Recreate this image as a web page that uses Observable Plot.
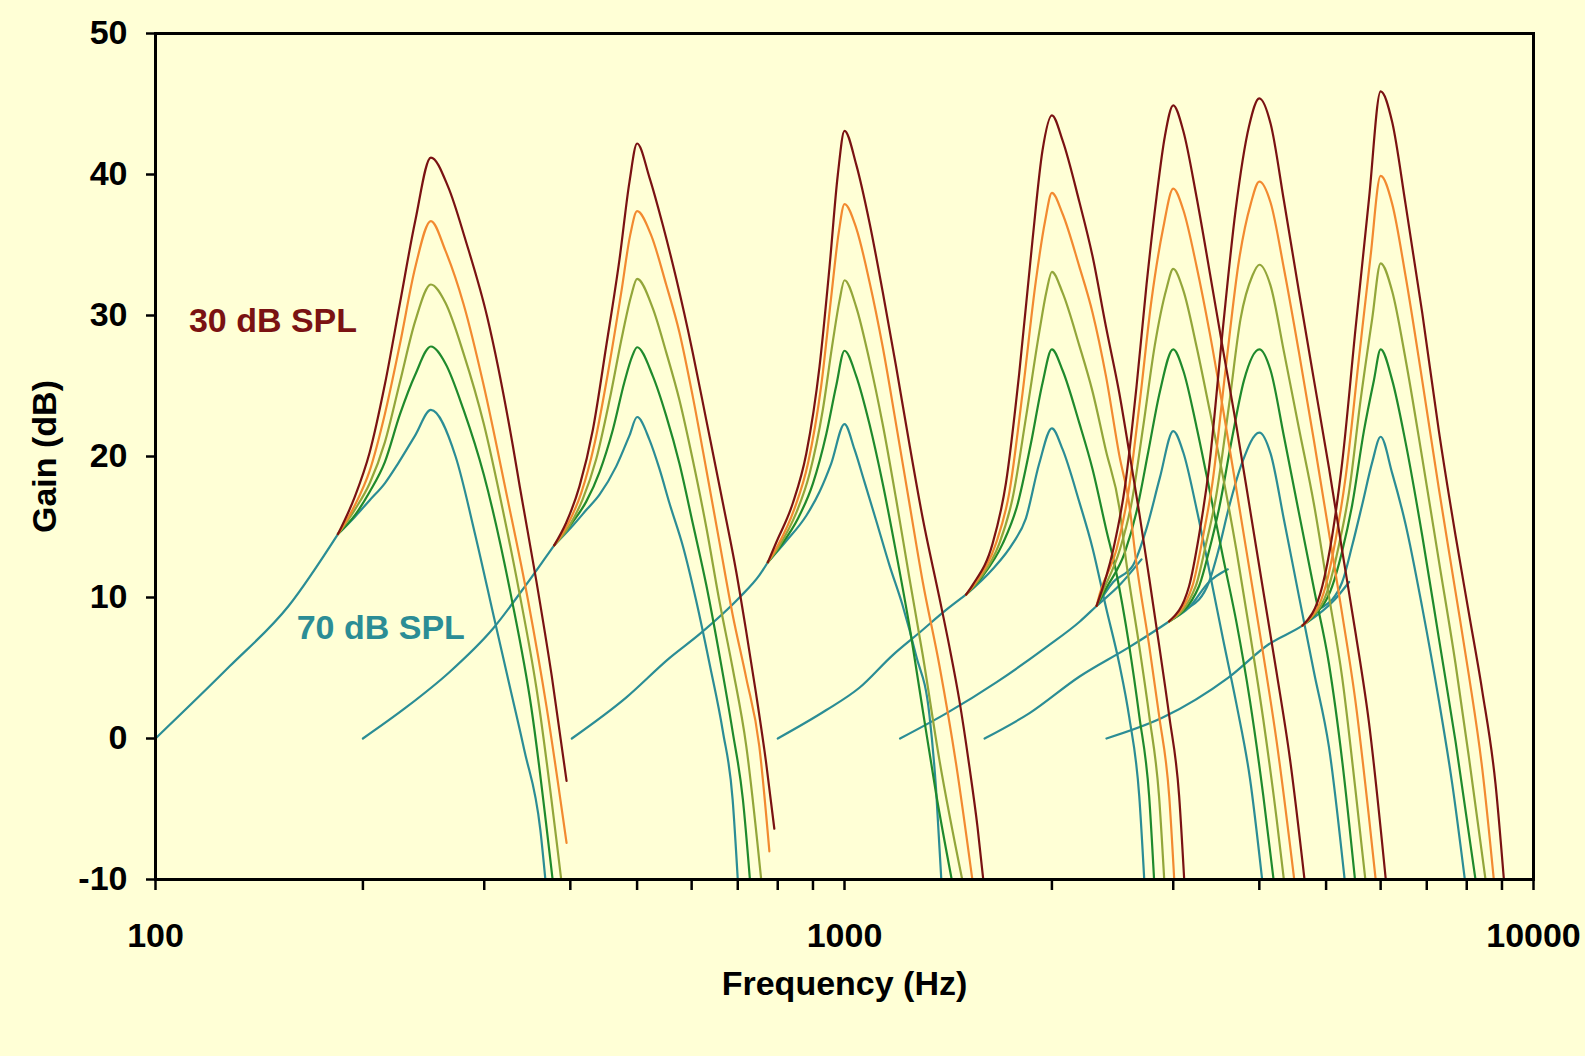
<!DOCTYPE html>
<html>
<head>
<meta charset="utf-8">
<script src="https://cdn.jsdelivr.net/npm/d3@7"></script>
<script src="https://cdn.jsdelivr.net/npm/@observablehq/plot@0.6"></script>
<style>
  html, body { margin: 0; padding: 0; background: #FFFFD6; }
  #chart svg { display: block; }
</style>
</head>
<body>
<div id="chart"></div>
<script>
// ---- categories / ticks ----
const levels = ["30 dB SPL", "40 dB SPL", "50 dB SPL", "60 dB SPL", "70 dB SPL"];
const levelColors = ["#7a1212", "#f28a30", "#93a63a", "#1f8a2c", "#2b8d95"];
const centerFreqs = [250, 500, 1000, 2000, 3000, 4000, 6000];
const xTickValues = [100,200,300,400,500,600,700,800,900,1000,2000,3000,4000,5000,6000,7000,8000,9000,10000];
const xTickLabels = ["100","","","","","","","","","1000","","","","","","","","","10000"];
const yTickValues = [-10, 0, 10, 20, 30, 40, 50];
const noteText = ["30 dB SPL", "70 dB SPL"];
const noteFreq = [111.8, 160.3];
const noteGain = [29.6, 7.8];

// ---- filter 250 Hz: [freq Hz, gain dB] ----
const tail250 = [[100,0],[128,5.1],[156,9.4],[184,14.5]];
const tips250 = [
  [[184,14.5],[194.5,17.1],[204.6,20.3],[215.2,25.1],[226.4,30.9],[238.2,36.7],[251,41.2],[266,39.1],[282,35.3],[303,29.9],[330,20.8],[338,17.8],[357,11.2],[376,4.4],[395,-3.0]],
  [[184,14.5],[194.5,16.5],[204.6,19.0],[215.2,23.0],[226.4,28.0],[238.2,33.4],[251,36.7],[263.5,34.6],[280,30.8],[299.6,25.0],[322.7,17.5],[347.6,9.7],[369.3,2.3],[395,-7.4]],
  [[184,14.5],[194.5,16.2],[204.6,18.1],[215.2,21.0],[226.4,25.3],[238.2,29.6],[251,32.2],[263.5,30.9],[280,27.3],[299.6,22.3],[320.5,15.8],[337.2,10.4],[357.1,3.6],[388,-10]],
  [[184,14.5],[194.5,15.8],[204.6,17.5],[215.2,19.6],[226.4,23.0],[238.2,25.8],[251,27.8],[263.5,26.6],[280,23.3],[299.6,18.7],[328.2,10.1],[351.1,2.2],[377,-10]],
  [[184,14.5],[194.5,15.7],[204.6,16.9],[215.2,18.1],[224.9,19.5],[238.2,21.5],[251,23.3],[272.6,20.0],[290.6,14.6],[309.9,8.6],[326,3.9],[342.9,-0.8],[361.9,-6.5],[368,-10]]
];

// ---- filter 500 Hz ----
const tail500 = [[200,0],[231,2.2],[267,4.7],[309,7.8],[345,10.9],[369,12.9],[379,13.7]];
const tips500 = [
  [[379,13.7],[394.5,15.3],[412.5,17.9],[431.3,21.9],[450.9,27.8],[471.5,34.0],[487.5,39.5],[500,42.2],[521,39.8],[545,36.4],[570,32.6],[602,27.4],[630,22.6],[666,16.7],[696,11.9],[720,7.6],[744,3.2],[769,-1.6],[791,-6.4]],
  [[379,13.7],[396.7,15.2],[414.8,17.4],[433.7,20.9],[453.5,25.9],[474.1,31.6],[488.6,35.7],[500,37.4],[524,35.7],[551,32.2],[576,28.8],[602,24.3],[630,19.1],[658,14.0],[688,8.8],[720,4.3],[752,-0.5],[778,-8.0]],
  [[379,13.7],[398.9,15.1],[417.1,17.0],[436.1,19.8],[456,24.0],[476.8,28.8],[490.2,31.4],[500,32.6],[527,30.5],[551,27.4],[576,24.0],[602,19.8],[630,15.0],[658,9.8],[688,5.0],[720,-0.5],[757,-10]],
  [[379,13.7],[401.1,15.2],[421.8,16.8],[441,18.9],[461.1,21.9],[479.4,25.3],[491.8,27.1],[500,27.75],[527,25.7],[551,22.9],[576,19.5],[602,15.3],[630,10.9],[658,6.0],[688,0.5],[712,-4.3],[729,-10]],
  [[379,13.7],[403.4,15.1],[421.8,16.2],[441,17.3],[466.3,19.3],[487.5,21.5],[500,22.8],[521,21.2],[539,19.1],[557,16.7],[583,13.6],[609,9.8],[637,5.3],[666,0.5],[688,-4.3],[700,-10]]
];

// ---- filter 1000 Hz ----
const tail1000 = [[402,0],[482,2.9],[557,5.7],[616,7.4],[704,10.0],[753,11.6],[774,12.5]];
const tips1000 = [
  [[774,12.5],[796,13.9],[841.5,16.7],[880,20.2],[920,26.4],[951,33.4],[978,40.0],[1000,43.1],[1040,40.7],[1087,36.6],[1136,31.7],[1188,26.4],[1242,20.9],[1299,15.6],[1373,10.0],[1420,6.5],[1468,2.7],[1518,-2.0],[1560,-6.3],[1590,-10]],
  [[774,12.5],[800.6,13.7],[846,16.3],[885,19.5],[925,25.0],[956.5,31.3],[981,35.9],[1000,37.9],[1040,36.2],[1087,32.4],[1136,27.8],[1188,22.3],[1242,16.7],[1299,11.1],[1373,5.2],[1452,-1.8],[1533,-10]],
  [[774,12.5],[805,13.7],[851,16.0],[890,18.8],[930,23.3],[962,28.2],[983,31.0],[1000,32.5],[1040,30.6],[1087,26.8],[1136,22.3],[1188,17.0],[1242,11.4],[1299,5.9],[1373,-1.5],[1482,-10]],
  [[774,12.5],[809,13.7],[856,15.6],[900,18.1],[941,21.6],[972.5,25.0],[1000,27.5],[1040,25.7],[1087,22.3],[1136,18.1],[1188,13.2],[1242,8.0],[1299,2.0],[1358,-3.9],[1431,-10]],
  [[774,12.5],[823,14.0],[880,15.8],[920,17.5],[956.5,19.5],[1000,22.3],[1034,20.5],[1069,18.2],[1111,15.5],[1162,12.3],[1215,9.4],[1270,5.9],[1328,1.7],[1358,-3.6],[1382,-10]]
];

// ---- filter 2000 Hz ----
const tail2000 = [[800,0],[940,2.0],[1051,3.6],[1174,5.9],[1284,7.5],[1403,9.1],[1501,10.2]];
const tips2000 = [
  [[1501,10.2],[1535,10.9],[1640,13.8],[1715,18.1],[1793,25.9],[1874,35.3],[1938,41.7],[2000,44.2],[2073,42.4],[2191,38.1],[2291,34.2],[2396,29.2],[2505,24.5],[2590,20.3],[2678,16.0],[2768,11.4],[2862,6.6],[2960,1.6],[3060,-4.1],[3112,-10]],
  [[1501,10.2],[1551,11.1],[1658,13.8],[1734,17.4],[1813,24.5],[1895,32.4],[1955,36.7],[2000,38.7],[2073,37.2],[2191,33.5],[2291,30.2],[2396,25.7],[2505,20.1],[2590,16.6],[2648,12.7],[2768,6.6],[2862,1.6],[2960,-4.1],[3010,-10]],
  [[1501,10.2],[1569,11.3],[1677,13.8],[1753,17.0],[1833,22.7],[1917,28.8],[1964,31.7],[2000,33.1],[2073,31.6],[2191,27.9],[2291,24.6],[2396,20.4],[2505,16.4],[2561,12.7],[2677,6.6],[2769,1.6],[2861,-4.1],[2911,-10]],
  [[1501,10.2],[1586,11.5],[1696,13.8],[1783,16.6],[1864,20.9],[1938,25.2],[2000,27.6],[2073,26.1],[2191,22.4],[2291,19.1],[2396,14.9],[2477,11.9],[2589,6.6],[2678,1.6],[2768,-4.1],[2814,-10]],
  [[1501,10.2],[1640,12.0],[1753,13.8],[1833,15.6],[1917,19.5],[2000,22.0],[2073,20.5],[2191,16.8],[2291,13.5],[2396,9.3],[2505,5.3],[2590,1.5],[2678,-4.1],[2723,-10]]
];

// ---- filter 3000 Hz ----
const tail3000 = [[1204,0],[1407,1.8],[1663,4.0],[1965,6.5],[2196,8.3],[2322,9.4],[2510,10.9],[2698,12.7]];
const tips3000 = [
  [[2322,9.4],[2455,13.4],[2552,17.8],[2654,25.0],[2744,32.2],[2837,38.4],[2917,42.7],[3000,44.9],[3102,43.1],[3243,38.4],[3391,33.0],[3545,27.5],[3707,22.1],[3876,16.3],[4052,10.5],[4237,4.7],[4430,-1.4],[4652,-10]],
  [[2322,9.4],[2348,10.3],[2482,13.4],[2581,17.4],[2683,23.9],[2790,31.1],[2901,36.2],[3000,39.0],[3102,37.5],[3243,33.5],[3391,28.7],[3545,23.3],[3707,17.6],[3876,11.8],[4052,6.0],[4238,-0.2],[4495,-10]],
  [[2322,9.4],[2374,10.5],[2510,13.4],[2610,16.7],[2713,22.1],[2821,27.9],[2933,31.9],[3000,33.3],[3102,31.8],[3243,27.8],[3391,23.2],[3545,18.5],[3707,13.3],[3876,7.5],[4052,1.4],[4238,-5.7],[4342,-10]],
  [[2322,9.4],[2401,10.7],[2552,13.2],[2654,16.1],[2759,20.3],[2869,24.6],[3000,27.6],[3102,26.1],[3243,22.1],[3391,17.5],[3545,12.8],[3707,8.2],[3876,2.7],[4052,-4.0],[4195,-10]],
  [[2322,9.4],[2455,11.1],[2624,12.3],[2744,14.9],[2869,18.5],[3000,21.8],[3102,20.3],[3243,16.3],[3391,11.7],[3545,7.0],[3707,2.4],[3876,-2.8],[4038,-10]]
];

// ---- filter 4000 Hz ----
const tail4000 = [[1597,0],[1856,1.8],[2194,4.4],[2593,6.5],[2958,8.3],[3163,9.3],[3381,11.1],[3600,12.0]];
const tips4000 = [
  [[2958,8.3],[3163,10.8],[3270,14.4],[3381,19.2],[3535,28.7],[3696,37.5],[3864,43.4],[4000,45.4],[4154,43.6],[4344,38.1],[4566,31.7],[4802,25.4],[5048,19.2],[5277,13.3],[5517,7.5],[5768,1.2],[6104,-10]],
  [[2958,8.3],[3198,10.8],[3307,14.1],[3419,18.1],[3574,26.2],[3737,33.9],[3886,37.9],[4000,39.5],[4154,38.0],[4344,33.3],[4566,27.4],[4802,21.1],[5048,14.6],[5277,8.8],[5517,2.6],[5768,-5.5],[5901,-10]],
  [[2958,8.3],[3234,10.8],[3344,13.7],[3457,17.0],[3614,23.6],[3758,29.8],[3907,32.8],[4000,33.6],[4154,32.1],[4344,27.4],[4566,22.0],[4802,16.6],[5048,10.1],[5277,4.3],[5517,-3.7],[5701,-10]],
  [[2958,8.3],[3270,10.8],[3381,13.3],[3496,16.3],[3655,21.4],[3800,25.4],[4000,27.6],[4154,26.1],[4344,21.4],[4566,16.0],[4802,10.6],[5048,5.3],[5277,-1.6],[5507,-10]],
  [[3163,9.3],[3381,11.1],[3496,13.5],[3614,16.4],[3779,19.6],[4000,21.7],[4154,20.2],[4344,15.5],[4566,10.1],[4802,4.7],[5048,-0.6],[5320,-10]]
];

// ---- filter 6000 Hz ----
const tail6000 = [[2400,0],[2901,1.5],[3603,4.3],[4133,6.7],[4618,8.0],[5136,9.8],[5400,11.1]];
const tips6000 = [
  [[4618,8.0],[4937,10.8],[5104,14.4],[5277,19.6],[5518,29.1],[5769,38.2],[6000,45.9],[6237,43.7],[6521,37.9],[6894,30.2],[7289,21.8],[7706,14.4],[8057,8.9],[8424,3.4],[8807,-3.2],[9058,-10]],
  [[4618,8.0],[4670,8.2],[4992,10.8],[5161,14.1],[5336,18.5],[5579,26.9],[5801,34.2],[6000,39.9],[6237,37.9],[6521,32.8],[6894,25.4],[7289,17.7],[7706,10.4],[8057,4.5],[8424,-2.1],[8758,-10]],
  [[4618,8.0],[4722,8.4],[5048,10.8],[5219,13.7],[5396,17.4],[5611,24.0],[5834,29.8],[6000,33.7],[6237,31.7],[6521,26.9],[6894,19.9],[7289,12.6],[7706,5.3],[8057,-1.3],[8518,-10]],
  [[4618,8.0],[4775,8.6],[5104,10.8],[5277,13.3],[5457,16.6],[5673,21.8],[5866,25.4],[6000,27.6],[6237,25.4],[6521,21.0],[6894,14.4],[7289,7.1],[7706,-0.2],[8238,-10]],
  [[4937,9.3],[5277,11.1],[5457,13.7],[5642,16.6],[5834,19.6],[6000,21.4],[6237,18.8],[6521,15.2],[6894,9.3],[7289,2.7],[7621,-3.2],[7950,-10]]
];

// ---- build tables for the library ----
const tails = [tail250, tail500, tail1000, tail2000, tail3000, tail4000, tail6000];
const tips = [tips250, tips500, tips1000, tips2000, tips3000, tips4000, tips6000];

const tailRows = [];
tails.forEach((pts, i) => pts.forEach(([f, g]) => tailRows.push({key: "tail-" + centerFreqs[i], level: levels[4], f, g})));

const tipRows = [];
// 70 dB drawn first, 30 dB last (on top)
for (let j = levels.length - 1; j >= 0; j--) {
  tips.forEach((set, i) => set[j].forEach(([f, g]) => tipRows.push({key: centerFreqs[i] + "-" + j, level: levels[j], f, g})));
}

const notes = noteText.map((t, i) => ({text: t, f: noteFreq[i], g: noteGain[i], level: levels[i === 0 ? 0 : 4]}));

const fontFamily = "'Liberation Sans', Arial, Helvetica, sans-serif";
const fs = 34;

const chart = Plot.plot({
  width: 1585,
  height: 1056,
  marginLeft: 155,
  marginRight: 52,
  marginTop: 33,
  marginBottom: 177,
  style: {background: "#FFFFD6", fontFamily, fontSize: fs + "px", fontWeight: "bold", color: "black"},
  x: {type: "log", domain: [100, 10000]},
  y: {domain: [-10, 50]},
  color: {domain: levels, range: levelColors},
  marks: [
    Plot.line(tailRows, {x: "f", y: "g", z: "key", stroke: "level", strokeWidth: 2.2, curve: "monotone-x", clip: true}),
    Plot.line(tipRows, {x: "f", y: "g", z: "key", stroke: "level", strokeWidth: 2.2, curve: "monotone-x", clip: true}),
    Plot.frame({stroke: "black", strokeWidth: 3}),
    Plot.axisX({ticks: xTickValues, tickFormat: d => xTickLabels[xTickValues.indexOf(d)], tickSize: 11, tickPadding: 32, strokeWidth: 2.5, label: null, fontSize: fs, fontWeight: "bold"}),
    Plot.axisY({ticks: yTickValues, tickFormat: d => String(d), tickSize: 9, tickPadding: 19, strokeWidth: 2.5, label: null, fontSize: fs, fontWeight: "bold"}),
    Plot.text(notes, {x: "f", y: "g", text: "text", fill: "level", textAnchor: "start", fontSize: fs, fontWeight: "bold"}),
    Plot.text(["Frequency (Hz)"], {frameAnchor: "bottom", lineAnchor: "middle", textAnchor: "middle", dy: 105, fontSize: fs, fontWeight: "bold", fill: "black"}),
    Plot.text(["Gain (dB)"], {frameAnchor: "left", lineAnchor: "middle", textAnchor: "middle", dx: -110, rotate: -90, fontSize: fs, fontWeight: "bold", fill: "black"})
  ]
});
document.getElementById("chart").append(chart);
</script>
</body>
</html>
